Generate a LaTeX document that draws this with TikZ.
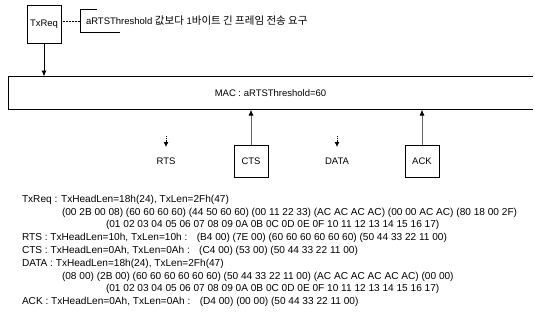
\documentclass[tikz,border=0pt]{standalone}
\usepackage{fontspec}
\setmainfont{Liberation Sans}
\newfontfamily\kofont{Noto Sans CJK KR}
\usetikzlibrary{arrows.meta}
\begin{document}
\begin{tikzpicture}[x=1pt,y=-1pt,
  every node/.style={inner sep=0pt,outer sep=0pt},
  boxnode/.style={draw,line width=0.9pt,minimum width=34pt,minimum height=32pt,font=\fontsize{9.5}{10}\selectfont},
  lbl/.style={font=\fontsize{9.5}{10}\selectfont},
  txt/.style={anchor=west,font=\fontsize{10.1}{11}\selectfont},
  arr/.style={line width=0.9pt,-{Latex[length=6pt,width=5pt]}},
  garr/.style={draw=black!60,line width=1pt,-{Latex[length=6pt,width=5pt,fill=black,color=black]}},
  sarr/.style={densely dotted,line width=0.8pt,-{Latex[length=5pt,width=5pt]}}]
\useasboundingbox (0,0) rectangle (535,325);
% TxReq
\node[boxnode,minimum height=38pt] (txreq) at (44,24) {TxReq};
\node[anchor=west,font=\fontsize{9.5}{10}\selectfont] (note) at (86,21) {aRTSThreshold {\kofont\fontsize{10.5}{11}\selectfont 값보다} 1{\kofont\fontsize{10.5}{11}\selectfont 바이트 긴 프레임 전송 요구}};
\coordinate (brk) at (80,21);
\draw[densely dotted,line width=0.5pt] (txreq.east |- brk) -- (brk);
\draw[line width=0.9pt] (97,9) -- (80,9) -- (80,32) -- (120,32);
% MAC
\node[minimum width=525pt,minimum height=33pt,font=\fontsize{9.5}{10}\selectfont] (mac) at (270.5,93) {MAC : aRTSThreshold=60};
\draw[line width=1pt] (mac.north east) -- (mac.north west) -- (mac.south west) -- (mac.south east);
\draw[arr] (txreq.south) -- (txreq.south |- mac.north);
% lower row
\node[lbl] (rts) at (166,161) {RTS};
\node[lbl] (data) at (337,161) {DATA};
\coordinate (rtsT) at (166,136);
\coordinate (dataT) at (337,136);
\draw[sarr] (rtsT) -- ++(0,11);
\draw[sarr] (dataT) -- ++(0,11);
\node[boxnode] (cts) at (251,161) {CTS};
\node[boxnode] (ack) at (422,161) {ACK};
\draw[garr] (cts.north) -- (cts.north |- mac.south);
\draw[garr] (ack.north) -- (ack.north |- mac.south);
% text block
\node[txt] (l1) at (22,200) {TxReq : TxHeadLen=18h(24), TxLen=2Fh(47)};
\node[txt] (l2) at (62,212.5) {(00 2B 00 08) (60 60 60 60) (44 50 60 60) (00 11 22 33) (AC AC AC AC) (00 00 AC AC) (80 18 00 2F)};
\node[txt] (l3) at (106,224.5) {(01 02 03 04 05 06 07 08 09 0A 0B 0C 0D 0E 0F 10 11 12 13 14 15 16 17)};
\node[txt] (l4) at (22,237.5) {RTS : TxHeadLen=10h, TxLen=10h : \ \ (B4 00) (7E 00) (60 60 60 60 60 60) (50 44 33 22 11 00)};
\node[txt] (l5) at (22,250.5) {CTS : TxHeadLen=0Ah, TxLen=0Ah : \ \ (C4 00) (53 00) (50 44 33 22 11 00)};
\node[txt] (l6) at (22,263.5) {DATA : TxHeadLen=18h(24), TxLen=2Fh(47)};
\node[txt] (l7) at (62,276.5) {(08 00) (2B 00) (60 60 60 60 60 60) (50 44 33 22 11 00) (AC AC AC AC AC AC) (00 00)};
\node[txt] (l8) at (106,288.5) {(01 02 03 04 05 06 07 08 09 0A 0B 0C 0D 0E 0F 10 11 12 13 14 15 16 17)};
\node[txt] (l9) at (22,301.5) {ACK : TxHeadLen=0Ah, TxLen=0Ah : \ \ (D4 00) (00 00) (50 44 33 22 11 00)};
\end{tikzpicture}
\end{document}
